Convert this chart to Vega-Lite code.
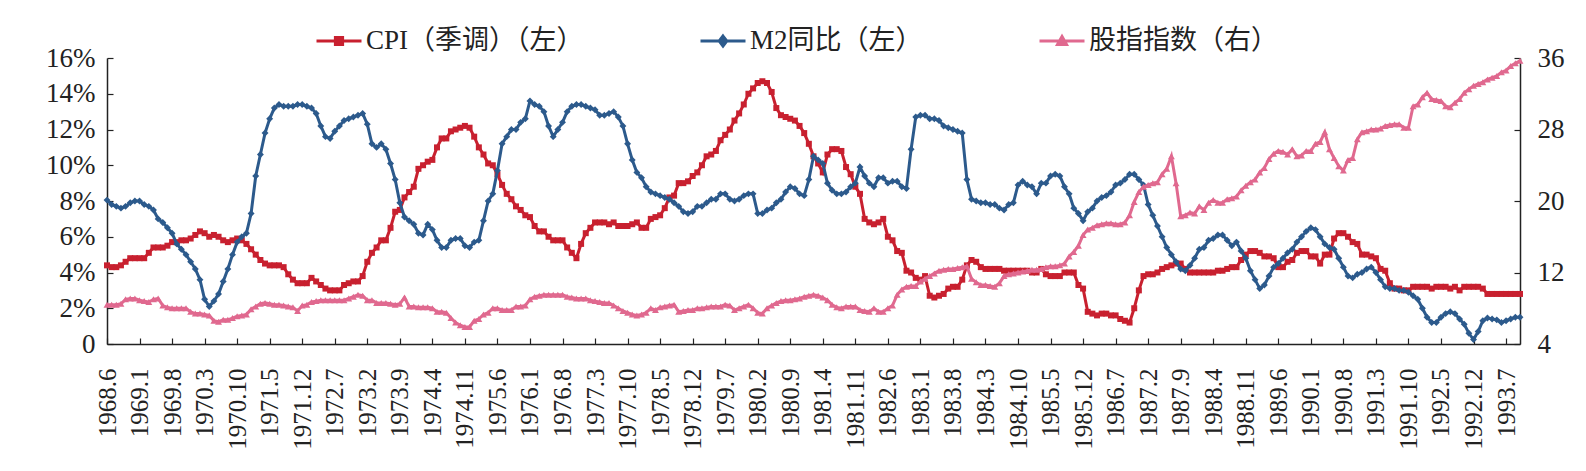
{
"$schema": "https://vega.github.io/schema/vega-lite/v6.json",
"width": 1413, "height": 286,
"autosize": {"type": "none"},
"padding": {"left": 107, "top": 58, "right": 66, "bottom": 127},
"background": "white",
"config": {"view": {"stroke": null}, "axis": {"grid": false, "domainColor": "#222", "domainWidth": 1.5, "tickColor": "#222", "tickWidth": 1.2, "labelColor": "#222", "labelFont": "Liberation Serif", "title": null}},
"datasets": {"main": [
{"t":"1968.6","cpi":4.4,"m2":8.05,"stock":8.4},{"t":"1968.7","cpi":4.3,"m2":7.8,"stock":8.4},{"t":"1968.8","cpi":4.3,"m2":7.7,"stock":8.4},{"t":"1968.9","cpi":4.4,"m2":7.6,"stock":8.5},{"t":"1968.10","cpi":4.6,"m2":7.7,"stock":9.0},{"t":"1968.11","cpi":4.8,"m2":7.9,"stock":9.1},{"t":"1968.12","cpi":4.8,"m2":8.0,"stock":9.1},
{"t":"1969.1","cpi":4.8,"m2":8.0,"stock":8.9},{"t":"1969.2","cpi":4.8,"m2":7.8,"stock":8.8},{"t":"1969.3","cpi":5.1,"m2":7.7,"stock":8.7},{"t":"1969.4","cpi":5.4,"m2":7.5,"stock":9.0},{"t":"1969.5","cpi":5.4,"m2":7.0,"stock":9.1},{"t":"1969.6","cpi":5.4,"m2":6.8,"stock":8.3},{"t":"1969.7","cpi":5.5,"m2":6.5,"stock":8.1},{"t":"1969.8","cpi":5.7,"m2":6.2,"stock":8.0},{"t":"1969.9","cpi":5.7,"m2":5.6,"stock":8.0},{"t":"1969.10","cpi":5.8,"m2":5.3,"stock":8.0},{"t":"1969.11","cpi":5.8,"m2":5.0,"stock":8.0},{"t":"1969.12","cpi":5.9,"m2":4.6,"stock":7.6},
{"t":"1970.1","cpi":6.1,"m2":4.2,"stock":7.4},{"t":"1970.2","cpi":6.3,"m2":3.6,"stock":7.4},{"t":"1970.3","cpi":6.2,"m2":2.5,"stock":7.3},{"t":"1970.4","cpi":6.0,"m2":2.1,"stock":7.2},{"t":"1970.5","cpi":6.1,"m2":2.4,"stock":6.6},{"t":"1970.6","cpi":6.0,"m2":2.8,"stock":6.5},{"t":"1970.7","cpi":5.8,"m2":3.5,"stock":6.7},{"t":"1970.8","cpi":5.7,"m2":4.2,"stock":6.7},{"t":"1970.9","cpi":5.8,"m2":5.0,"stock":6.9},{"t":"1970.10","cpi":5.9,"m2":5.7,"stock":7.1},{"t":"1970.11","cpi":5.8,"m2":6.0,"stock":7.2},{"t":"1970.12","cpi":5.6,"m2":6.2,"stock":7.3},
{"t":"1971.1","cpi":5.3,"m2":7.3,"stock":7.9},{"t":"1971.2","cpi":5.0,"m2":9.4,"stock":8.2},{"t":"1971.3","cpi":4.7,"m2":10.6,"stock":8.5},{"t":"1971.4","cpi":4.5,"m2":11.8,"stock":8.6},{"t":"1971.5","cpi":4.4,"m2":12.6,"stock":8.5},{"t":"1971.6","cpi":4.4,"m2":13.2,"stock":8.4},{"t":"1971.7","cpi":4.4,"m2":13.4,"stock":8.4},{"t":"1971.8","cpi":4.3,"m2":13.3,"stock":8.3},{"t":"1971.9","cpi":3.9,"m2":13.3,"stock":8.2},{"t":"1971.10","cpi":3.6,"m2":13.3,"stock":8.1},{"t":"1971.11","cpi":3.4,"m2":13.4,"stock":7.7},{"t":"1971.12","cpi":3.4,"m2":13.4,"stock":8.3},
{"t":"1972.1","cpi":3.4,"m2":13.3,"stock":8.4},{"t":"1972.2","cpi":3.7,"m2":13.2,"stock":8.7},{"t":"1972.3","cpi":3.5,"m2":12.9,"stock":8.8},{"t":"1972.4","cpi":3.3,"m2":12.2,"stock":8.9},{"t":"1972.5","cpi":3.1,"m2":11.6,"stock":8.9},{"t":"1972.6","cpi":3.0,"m2":11.5,"stock":8.9},{"t":"1972.7","cpi":3.0,"m2":11.9,"stock":8.9},{"t":"1972.8","cpi":3.0,"m2":12.2,"stock":8.9},{"t":"1972.9","cpi":3.3,"m2":12.5,"stock":8.9},{"t":"1972.10","cpi":3.4,"m2":12.6,"stock":9.1},{"t":"1972.11","cpi":3.5,"m2":12.7,"stock":9.3},{"t":"1972.12","cpi":3.5,"m2":12.8,"stock":9.5},
{"t":"1973.1","cpi":3.8,"m2":12.9,"stock":9.4},{"t":"1973.2","cpi":4.6,"m2":12.3,"stock":8.9},{"t":"1973.3","cpi":5.1,"m2":11.2,"stock":8.9},{"t":"1973.4","cpi":5.4,"m2":11.0,"stock":8.6},{"t":"1973.5","cpi":5.8,"m2":11.2,"stock":8.6},{"t":"1973.6","cpi":5.8,"m2":10.9,"stock":8.6},{"t":"1973.7","cpi":6.5,"m2":10.1,"stock":8.5},{"t":"1973.8","cpi":7.4,"m2":9.2,"stock":8.4},{"t":"1973.9","cpi":7.5,"m2":7.9,"stock":8.5},{"t":"1973.10","cpi":8.2,"m2":7.1,"stock":9.2},{"t":"1973.11","cpi":8.5,"m2":6.9,"stock":8.2},{"t":"1973.12","cpi":8.8,"m2":6.7,"stock":8.2},
{"t":"1974.1","cpi":9.8,"m2":6.2,"stock":8.1},{"t":"1974.2","cpi":10.0,"m2":6.1,"stock":8.1},{"t":"1974.3","cpi":10.2,"m2":6.7,"stock":8.1},{"t":"1974.4","cpi":10.3,"m2":6.4,"stock":8.0},{"t":"1974.5","cpi":11.0,"m2":5.8,"stock":7.6},{"t":"1974.6","cpi":11.5,"m2":5.4,"stock":7.6},{"t":"1974.7","cpi":11.5,"m2":5.4,"stock":7.5},{"t":"1974.8","cpi":11.9,"m2":5.8,"stock":6.9},{"t":"1974.9","cpi":12.0,"m2":5.9,"stock":6.4},{"t":"1974.10","cpi":12.1,"m2":5.9,"stock":6.1},{"t":"1974.11","cpi":12.2,"m2":5.5,"stock":5.9},{"t":"1974.12","cpi":12.1,"m2":5.4,"stock":5.9},
{"t":"1975.1","cpi":11.6,"m2":5.7,"stock":6.6},{"t":"1975.2","cpi":11.0,"m2":5.8,"stock":6.8},{"t":"1975.3","cpi":10.6,"m2":6.9,"stock":7.3},{"t":"1975.4","cpi":10.1,"m2":8.0,"stock":7.5},{"t":"1975.5","cpi":10.0,"m2":8.4,"stock":8.0},{"t":"1975.6","cpi":9.5,"m2":9.7,"stock":8.0},{"t":"1975.7","cpi":8.9,"m2":11.2,"stock":7.8},{"t":"1975.8","cpi":8.4,"m2":11.6,"stock":7.8},{"t":"1975.9","cpi":8.1,"m2":12.0,"stock":7.8},{"t":"1975.10","cpi":7.7,"m2":12.0,"stock":8.2},{"t":"1975.11","cpi":7.5,"m2":12.4,"stock":8.2},{"t":"1975.12","cpi":7.2,"m2":12.6,"stock":8.3},
{"t":"1976.1","cpi":7.1,"m2":13.6,"stock":9.0},{"t":"1976.2","cpi":6.6,"m2":13.4,"stock":9.3},{"t":"1976.3","cpi":6.3,"m2":13.3,"stock":9.4},{"t":"1976.4","cpi":6.3,"m2":13.0,"stock":9.5},{"t":"1976.5","cpi":6.0,"m2":12.2,"stock":9.5},{"t":"1976.6","cpi":5.8,"m2":11.6,"stock":9.5},{"t":"1976.7","cpi":5.8,"m2":12.0,"stock":9.5},{"t":"1976.8","cpi":5.8,"m2":12.4,"stock":9.5},{"t":"1976.9","cpi":5.4,"m2":13.0,"stock":9.3},{"t":"1976.10","cpi":5.1,"m2":13.3,"stock":9.2},{"t":"1976.11","cpi":4.8,"m2":13.4,"stock":9.1},{"t":"1976.12","cpi":5.6,"m2":13.4,"stock":9.1},
{"t":"1977.1","cpi":6.2,"m2":13.3,"stock":9.1},{"t":"1977.2","cpi":6.5,"m2":13.2,"stock":8.9},{"t":"1977.3","cpi":6.8,"m2":13.1,"stock":8.8},{"t":"1977.4","cpi":6.8,"m2":12.8,"stock":8.7},{"t":"1977.5","cpi":6.8,"m2":12.8,"stock":8.6},{"t":"1977.6","cpi":6.7,"m2":12.9,"stock":8.6},{"t":"1977.7","cpi":6.8,"m2":13.0,"stock":8.3},{"t":"1977.8","cpi":6.6,"m2":12.7,"stock":8.0},{"t":"1977.9","cpi":6.6,"m2":12.2,"stock":7.7},{"t":"1977.10","cpi":6.6,"m2":11.2,"stock":7.5},{"t":"1977.11","cpi":6.7,"m2":10.3,"stock":7.3},{"t":"1977.12","cpi":6.8,"m2":9.6,"stock":7.2},
{"t":"1978.1","cpi":6.5,"m2":9.3,"stock":7.3},{"t":"1978.2","cpi":6.5,"m2":8.8,"stock":7.5},{"t":"1978.3","cpi":7.0,"m2":8.5,"stock":8.0},{"t":"1978.4","cpi":7.1,"m2":8.4,"stock":7.8},{"t":"1978.5","cpi":7.2,"m2":8.3,"stock":8.1},{"t":"1978.6","cpi":7.6,"m2":8.2,"stock":8.2},{"t":"1978.7","cpi":8.2,"m2":8.1,"stock":8.3},{"t":"1978.8","cpi":8.3,"m2":7.9,"stock":8.4},{"t":"1978.9","cpi":9.0,"m2":7.7,"stock":7.6},{"t":"1978.10","cpi":9.0,"m2":7.4,"stock":7.7},{"t":"1978.11","cpi":9.1,"m2":7.3,"stock":7.8},{"t":"1978.12","cpi":9.4,"m2":7.4,"stock":7.8},
{"t":"1979.1","cpi":9.6,"m2":7.7,"stock":8.0},{"t":"1979.2","cpi":10.0,"m2":7.7,"stock":8.0},{"t":"1979.3","cpi":10.5,"m2":7.9,"stock":8.1},{"t":"1979.4","cpi":10.6,"m2":8.1,"stock":8.2},{"t":"1979.5","cpi":10.8,"m2":8.1,"stock":8.2},{"t":"1979.6","cpi":11.4,"m2":8.4,"stock":8.2},{"t":"1979.7","cpi":11.7,"m2":8.4,"stock":8.4},{"t":"1979.8","cpi":12.0,"m2":8.1,"stock":8.3},{"t":"1979.9","cpi":12.5,"m2":8.0,"stock":7.8},{"t":"1979.10","cpi":12.9,"m2":8.1,"stock":8.0},{"t":"1979.11","cpi":13.4,"m2":8.3,"stock":8.2},{"t":"1979.12","cpi":14.0,"m2":8.4,"stock":8.4},
{"t":"1980.1","cpi":14.3,"m2":8.4,"stock":8.0},{"t":"1980.2","cpi":14.6,"m2":7.3,"stock":7.5},{"t":"1980.3","cpi":14.7,"m2":7.3,"stock":7.4},{"t":"1980.4","cpi":14.6,"m2":7.5,"stock":8.0},{"t":"1980.5","cpi":14.1,"m2":7.6,"stock":8.3},{"t":"1980.6","cpi":13.2,"m2":7.9,"stock":8.6},{"t":"1980.7","cpi":12.8,"m2":8.1,"stock":8.8},{"t":"1980.8","cpi":12.7,"m2":8.5,"stock":8.9},{"t":"1980.9","cpi":12.6,"m2":8.8,"stock":8.9},{"t":"1980.10","cpi":12.5,"m2":8.7,"stock":9.0},{"t":"1980.11","cpi":12.2,"m2":8.4,"stock":9.1},{"t":"1980.12","cpi":11.8,"m2":8.3,"stock":9.3},
{"t":"1981.1","cpi":11.2,"m2":9.2,"stock":9.4},{"t":"1981.2","cpi":10.5,"m2":10.5,"stock":9.5},{"t":"1981.3","cpi":10.1,"m2":10.3,"stock":9.4},{"t":"1981.4","cpi":9.6,"m2":10.1,"stock":9.2},{"t":"1981.5","cpi":10.6,"m2":9.0,"stock":8.9},{"t":"1981.6","cpi":10.9,"m2":8.6,"stock":8.4},{"t":"1981.7","cpi":10.9,"m2":8.4,"stock":8.1},{"t":"1981.8","cpi":10.8,"m2":8.4,"stock":8.0},{"t":"1981.9","cpi":9.9,"m2":8.5,"stock":8.2},{"t":"1981.10","cpi":9.5,"m2":8.8,"stock":8.2},{"t":"1981.11","cpi":8.8,"m2":9.0,"stock":8.2},{"t":"1981.12","cpi":8.4,"m2":9.9,"stock":7.8},
{"t":"1982.1","cpi":7.0,"m2":9.4,"stock":7.7},{"t":"1982.2","cpi":6.8,"m2":9.0,"stock":7.6},{"t":"1982.3","cpi":6.7,"m2":8.8,"stock":8.0},{"t":"1982.4","cpi":6.8,"m2":9.3,"stock":7.6},{"t":"1982.5","cpi":7.0,"m2":9.3,"stock":7.6},{"t":"1982.6","cpi":6.0,"m2":9.0,"stock":8.0},{"t":"1982.7","cpi":5.8,"m2":9.1,"stock":8.3},{"t":"1982.8","cpi":5.2,"m2":9.1,"stock":9.5},{"t":"1982.9","cpi":5.1,"m2":8.8,"stock":10.1},{"t":"1982.10","cpi":4.1,"m2":8.7,"stock":10.4},{"t":"1982.11","cpi":4.0,"m2":10.9,"stock":10.5},{"t":"1982.12","cpi":3.7,"m2":12.7,"stock":10.5},
{"t":"1983.1","cpi":3.6,"m2":12.8,"stock":11.0},{"t":"1983.2","cpi":3.8,"m2":12.8,"stock":11.3},{"t":"1983.3","cpi":2.7,"m2":12.6,"stock":11.6},{"t":"1983.4","cpi":2.6,"m2":12.6,"stock":11.9},{"t":"1983.5","cpi":2.7,"m2":12.5,"stock":12.2},{"t":"1983.6","cpi":2.8,"m2":12.2,"stock":12.3},{"t":"1983.7","cpi":3.1,"m2":12.1,"stock":12.4},{"t":"1983.8","cpi":3.2,"m2":12.0,"stock":12.4},{"t":"1983.9","cpi":3.2,"m2":11.9,"stock":12.5},{"t":"1983.10","cpi":3.6,"m2":11.8,"stock":12.6},{"t":"1983.11","cpi":4.4,"m2":9.2,"stock":12.7},{"t":"1983.12","cpi":4.7,"m2":8.1,"stock":11.3},
{"t":"1984.1","cpi":4.6,"m2":8.0,"stock":10.9},{"t":"1984.2","cpi":4.3,"m2":7.9,"stock":10.6},{"t":"1984.3","cpi":4.2,"m2":7.9,"stock":10.6},{"t":"1984.4","cpi":4.2,"m2":7.8,"stock":10.5},{"t":"1984.5","cpi":4.2,"m2":7.8,"stock":10.4},{"t":"1984.6","cpi":4.2,"m2":7.6,"stock":10.8},{"t":"1984.7","cpi":4.1,"m2":7.5,"stock":11.6},{"t":"1984.8","cpi":4.1,"m2":7.8,"stock":11.8},{"t":"1984.9","cpi":4.1,"m2":7.9,"stock":11.9},{"t":"1984.10","cpi":4.1,"m2":8.9,"stock":12.0},{"t":"1984.11","cpi":4.1,"m2":9.1,"stock":12.1},{"t":"1984.12","cpi":4.1,"m2":8.9,"stock":12.2},
{"t":"1985.1","cpi":4.0,"m2":8.8,"stock":12.3},{"t":"1985.2","cpi":4.0,"m2":8.4,"stock":12.3},{"t":"1985.3","cpi":4.2,"m2":9.0,"stock":12.4},{"t":"1985.4","cpi":3.9,"m2":9.0,"stock":12.6},{"t":"1985.5","cpi":3.8,"m2":9.4,"stock":12.7},{"t":"1985.6","cpi":3.8,"m2":9.5,"stock":12.7},{"t":"1985.7","cpi":3.8,"m2":9.4,"stock":12.8},{"t":"1985.8","cpi":4.0,"m2":8.8,"stock":13.0},{"t":"1985.9","cpi":4.0,"m2":8.4,"stock":13.8},{"t":"1985.10","cpi":4.0,"m2":7.6,"stock":14.3},{"t":"1985.11","cpi":3.3,"m2":7.3,"stock":15.0},{"t":"1985.12","cpi":3.1,"m2":6.9,"stock":16.2},
{"t":"1986.1","cpi":1.8,"m2":7.4,"stock":16.8},{"t":"1986.2","cpi":1.7,"m2":7.6,"stock":17.0},{"t":"1986.3","cpi":1.6,"m2":8.0,"stock":17.3},{"t":"1986.4","cpi":1.7,"m2":8.2,"stock":17.4},{"t":"1986.5","cpi":1.7,"m2":8.3,"stock":17.5},{"t":"1986.6","cpi":1.6,"m2":8.5,"stock":17.5},{"t":"1986.7","cpi":1.6,"m2":8.9,"stock":17.4},{"t":"1986.8","cpi":1.4,"m2":9.0,"stock":17.4},{"t":"1986.9","cpi":1.3,"m2":9.2,"stock":17.6},{"t":"1986.10","cpi":1.2,"m2":9.5,"stock":18.4},{"t":"1986.11","cpi":2.0,"m2":9.5,"stock":19.9},{"t":"1986.12","cpi":3.0,"m2":9.2,"stock":21.0},
{"t":"1987.1","cpi":3.8,"m2":8.9,"stock":21.6},{"t":"1987.2","cpi":3.9,"m2":7.8,"stock":21.8},{"t":"1987.3","cpi":3.9,"m2":7.2,"stock":22.0},{"t":"1987.4","cpi":4.0,"m2":6.6,"stock":22.1},{"t":"1987.5","cpi":4.2,"m2":6.0,"stock":23.0},{"t":"1987.6","cpi":4.3,"m2":5.4,"stock":23.6},{"t":"1987.7","cpi":4.4,"m2":5.0,"stock":25.0},{"t":"1987.8","cpi":4.5,"m2":4.6,"stock":22.0},{"t":"1987.9","cpi":4.5,"m2":4.2,"stock":18.3},{"t":"1987.10","cpi":4.2,"m2":4.1,"stock":18.4},{"t":"1987.11","cpi":4.0,"m2":4.4,"stock":18.7},{"t":"1987.12","cpi":4.0,"m2":4.8,"stock":18.6},
{"t":"1988.1","cpi":4.0,"m2":5.3,"stock":19.4},{"t":"1988.2","cpi":4.0,"m2":5.4,"stock":19.0},{"t":"1988.3","cpi":4.0,"m2":5.8,"stock":19.8},{"t":"1988.4","cpi":4.0,"m2":5.9,"stock":20.1},{"t":"1988.5","cpi":4.1,"m2":6.1,"stock":19.8},{"t":"1988.6","cpi":4.1,"m2":6.1,"stock":19.8},{"t":"1988.7","cpi":4.2,"m2":5.8,"stock":20.2},{"t":"1988.8","cpi":4.3,"m2":5.5,"stock":20.3},{"t":"1988.9","cpi":4.3,"m2":5.7,"stock":20.5},{"t":"1988.10","cpi":4.7,"m2":5.2,"stock":21.2},{"t":"1988.11","cpi":5.0,"m2":4.8,"stock":21.7},{"t":"1988.12","cpi":5.2,"m2":4.1,"stock":22.1},
{"t":"1989.1","cpi":5.2,"m2":3.6,"stock":22.4},{"t":"1989.2","cpi":5.1,"m2":3.1,"stock":23.2},{"t":"1989.3","cpi":4.9,"m2":3.3,"stock":23.7},{"t":"1989.4","cpi":4.9,"m2":3.8,"stock":24.7},{"t":"1989.5","cpi":4.8,"m2":4.3,"stock":25.3},{"t":"1989.6","cpi":4.3,"m2":4.5,"stock":25.6},{"t":"1989.7","cpi":4.3,"m2":4.8,"stock":25.5},{"t":"1989.8","cpi":4.6,"m2":5.1,"stock":25.2},{"t":"1989.9","cpi":4.7,"m2":5.3,"stock":25.8},{"t":"1989.10","cpi":5.1,"m2":5.7,"stock":25.0},{"t":"1989.11","cpi":5.2,"m2":6.0,"stock":25.1},{"t":"1989.12","cpi":5.2,"m2":6.3,"stock":25.6},
{"t":"1990.1","cpi":4.9,"m2":6.5,"stock":25.6},{"t":"1990.2","cpi":4.9,"m2":6.4,"stock":26.4},{"t":"1990.3","cpi":4.5,"m2":6.0,"stock":26.6},{"t":"1990.4","cpi":5.0,"m2":5.6,"stock":27.7},{"t":"1990.5","cpi":5.0,"m2":5.4,"stock":25.8},{"t":"1990.6","cpi":5.9,"m2":5.3,"stock":24.8},{"t":"1990.7","cpi":6.2,"m2":4.8,"stock":23.9},{"t":"1990.8","cpi":6.2,"m2":4.3,"stock":23.4},{"t":"1990.9","cpi":6.0,"m2":3.8,"stock":24.6},{"t":"1990.10","cpi":5.7,"m2":3.7,"stock":24.8},{"t":"1990.11","cpi":5.6,"m2":3.9,"stock":26.9},{"t":"1990.12","cpi":5.0,"m2":4.0,"stock":27.7},
{"t":"1991.1","cpi":5.0,"m2":4.2,"stock":27.8},{"t":"1991.2","cpi":4.9,"m2":4.3,"stock":28.0},{"t":"1991.3","cpi":4.8,"m2":4.0,"stock":28.0},{"t":"1991.4","cpi":4.2,"m2":3.6,"stock":28.1},{"t":"1991.5","cpi":4.1,"m2":3.2,"stock":28.4},{"t":"1991.6","cpi":3.4,"m2":3.1,"stock":28.5},{"t":"1991.7","cpi":3.1,"m2":3.1,"stock":28.6},{"t":"1991.8","cpi":3.1,"m2":3.0,"stock":28.6},{"t":"1991.9","cpi":3.0,"m2":3.0,"stock":28.2},{"t":"1991.10","cpi":3.0,"m2":2.9,"stock":28.2},{"t":"1991.11","cpi":3.2,"m2":2.7,"stock":30.6},{"t":"1991.12","cpi":3.2,"m2":2.5,"stock":30.8},
{"t":"1992.1","cpi":3.2,"m2":2.0,"stock":31.6},{"t":"1992.2","cpi":3.2,"m2":1.5,"stock":32.1},{"t":"1992.3","cpi":3.1,"m2":1.2,"stock":31.4},{"t":"1992.4","cpi":3.2,"m2":1.2,"stock":31.3},{"t":"1992.5","cpi":3.2,"m2":1.5,"stock":31.2},{"t":"1992.6","cpi":3.2,"m2":1.7,"stock":30.6},{"t":"1992.7","cpi":3.1,"m2":1.8,"stock":30.5},{"t":"1992.8","cpi":3.2,"m2":1.7,"stock":31.0},{"t":"1992.9","cpi":3.0,"m2":1.4,"stock":31.4},{"t":"1992.10","cpi":3.2,"m2":1.1,"stock":32.1},{"t":"1992.11","cpi":3.2,"m2":0.6,"stock":32.5},{"t":"1992.12","cpi":3.2,"m2":0.25,"stock":32.9},
{"t":"1993.1","cpi":3.2,"m2":0.7,"stock":33.1},{"t":"1993.2","cpi":3.1,"m2":1.3,"stock":33.3},{"t":"1993.3","cpi":2.8,"m2":1.45,"stock":33.6},{"t":"1993.4","cpi":2.8,"m2":1.4,"stock":33.8},{"t":"1993.5","cpi":2.8,"m2":1.35,"stock":34.0},{"t":"1993.6","cpi":2.8,"m2":1.2,"stock":34.4},{"t":"1993.7","cpi":2.8,"m2":1.3,"stock":34.6},{"t":"1993.8","cpi":2.8,"m2":1.4,"stock":35.1},{"t":"1993.9","cpi":2.8,"m2":1.5,"stock":35.4},{"t":"1993.10","cpi":2.8,"m2":1.5,"stock":35.7}
]},
"data": {"name": "main"},
"encoding": {
  "x": {"field": "t", "type": "ordinal", "sort": null, "scale": {"type": "point", "padding": 0},
    "axis": {"title": null, "values": ["1968.6","1969.1","1969.8","1970.3","1970.10","1971.5","1971.12","1972.7","1973.2","1973.9","1974.4","1974.11","1975.6","1976.1","1976.8","1977.3","1977.10","1978.5","1978.12","1979.7","1980.2","1980.9","1981.4","1981.11","1982.6","1983.1","1983.8","1984.3","1984.10","1985.5","1985.12","1986.7","1987.2","1987.9","1988.4","1988.11","1989.6","1990.1","1990.8","1991.3","1991.10","1992.5","1992.12","1993.7"],
      "labelAngle": -90, "labelFontSize": 25, "tickSize": -6, "labelPadding": 30, "labelOverlap": false, "labelBound": false}}
},
"layer": [
  {"layer": [
    {"mark": {"type": "line", "strokeWidth": 3, "point": {"shape": "square", "size": 36, "filled": true}},
     "encoding": {
       "y": {"field": "cpi", "type": "quantitative", "scale": {"domain": [0, 16]},
         "axis": {"title": null, "orient": "left", "values": [0,2,4,6,8,10,12,14,16], "labelExpr": "datum.value == 0 ? '0' : datum.value + '%'", "labelFontSize": 27, "tickSize": -6, "labelPadding": 18}},
       "color": {"datum": "CPI（季调）（左）", "type": "nominal",
         "scale": {"domain": ["CPI（季调）（左）", "M2同比（左）", "股指指数（右）"], "range": ["#c8202f", "#2c5a8c", "#e0698f"]},
         "legend": {"title": null, "orient": "none", "legendX": 208, "legendY": -41, "direction": "horizontal",
           "labelFont": "Liberation Serif, Noto Sans CJK SC", "labelFontSize": 27, "labelColor": "#222", "labelLimit": 400,
           "symbolSize": 2025, "columnPadding": 110, "labelOffset": 3, "padding": 0,
           "encode": {"symbols": {"update": {
             "shape": {"signal": "datum.value === 'CPI（季调）（左）' ? 'M-1,0H1M-0.16,-0.16H0.16V0.16H-0.16Z' : datum.value === 'M2同比（左）' ? 'M-1,0H1M0,-0.22L0.17,0L0,0.22L-0.17,0Z' : 'M-1,0H1M0,-0.2L0.2,0.16L-0.2,0.16Z'"},
             "fill": {"signal": "datum.value === 'CPI（季调）（左）' ? '#c8202f' : datum.value === 'M2同比（左）' ? '#2c5a8c' : '#e0698f'"},
             "stroke": {"signal": "datum.value === 'CPI（季调）（左）' ? '#c8202f' : datum.value === 'M2同比（左）' ? '#2c5a8c' : '#e0698f'"},
             "strokeWidth": {"value": 3}, "opacity": {"value": 1}, "fillOpacity": {"value": 1}, "strokeOpacity": {"value": 1}}}}}}
     }},
    {"mark": {"type": "line", "strokeWidth": 3, "point": {"shape": "diamond", "size": 48, "filled": true}},
     "encoding": {
       "y": {"field": "m2", "type": "quantitative", "scale": {"domain": [0, 16]},
         "axis": {"title": null, "orient": "left", "values": [0,2,4,6,8,10,12,14,16], "labelExpr": "datum.value == 0 ? '0' : datum.value + '%'", "labelFontSize": 27, "tickSize": -6, "labelPadding": 18}},
       "color": {"datum": "M2同比（左）", "type": "nominal"}
     }}
  ]},
  {"mark": {"type": "line", "strokeWidth": 3, "point": {"shape": "triangle-up", "size": 48, "filled": true}},
   "encoding": {
     "y": {"field": "stock", "type": "quantitative", "scale": {"domain": [4, 36]},
       "axis": {"title": null, "orient": "right", "values": [4,12,20,28,36], "labelFontSize": 27, "tickSize": -6, "labelPadding": 23}},
     "color": {"datum": "股指指数（右）", "type": "nominal"}
   }}
],
"resolve": {"scale": {"y": "independent"}}
}
